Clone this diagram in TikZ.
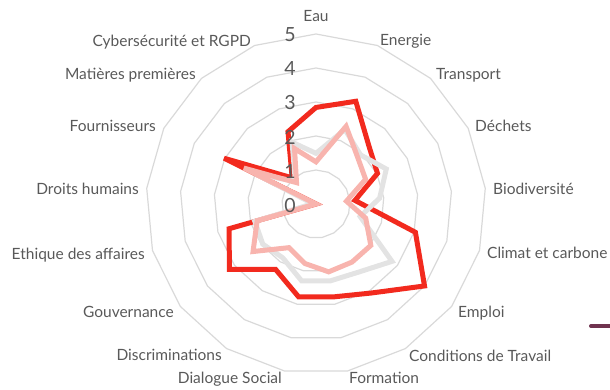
\documentclass[tikz,border=0pt]{standalone}
\usepackage{fontspec}
\setmainfont{Lato}
\definecolor{ringc}{HTML}{D9D9D9}
\definecolor{txt}{HTML}{595959}
\definecolor{redc}{HTML}{F22A1E}
\definecolor{pinkc}{HTML}{F8B4AE}
\definecolor{grayc}{HTML}{E3E3E3}
\definecolor{maroon}{HTML}{70334F}
\tikzset{
  ring/.style={draw=ringc, line width=1.2pt},
  serie/.style={line width=5pt, line join=miter, miter limit=3},
  lab/.style={text=txt, font=\fontsize{15.5}{16}\selectfont, inner sep=0pt, text height=0.72em, text depth=0pt, yshift=-1.5pt},
  tick/.style={text=txt, font=\fontsize{19.5}{20}\selectfont, inner sep=0pt, text height=0.72em, text depth=0pt, anchor=east, yshift=-2pt},
}
\begin{document}
\begin{tikzpicture}[x=1pt,y=-1pt]
\useasboundingbox (0,0) rectangle (610,390);
% rings
\foreach \v in {1,...,5}{
  \draw[ring] (316,{204-34*\v}) \foreach \k in {1,...,16}{ -- ({316+34*\v*sin(\k*360/17)},{204-34*\v*cos(\k*360/17)}) } -- cycle;
}
% data points
\foreach \v [count=\k from 0] in {2.84,3.24,2.31,2.02,1.15,3.04,4.0,3.08,2.78,2.78,2.26,3.19,2.66,0,3.02,1.04,2.28}
  \coordinate (r\k) at ({316+34*\v*sin(\k*360/17)},{204-34*\v*cos(\k*360/17)});
\foreach \v [count=\k from 0] in {1.49,2.35,1.95,2.31,1.88,1.35,2.8,2.36,2.3,2.3,1.86,1.96,1.87,0.1,2.0,0.9,1.95}
  \coordinate (g\k) at ({316+34*\v*sin(\k*360/17)},{204-34*\v*cos(\k*360/17)});
\foreach \v [count=\k from 0] in {1.24,2.45,1.83,1.63,0.9,1.52,2.02,2.01,2.03,1.78,1.51,2.32,1.8,0,2.37,0.85,1.75}
  \coordinate (p\k) at ({316+34*\v*sin(\k*360/17)},{204-34*\v*cos(\k*360/17)});
\draw[serie, redc] (r0) \foreach \k in {1,...,16}{ -- (r\k) } -- cycle;
\draw[serie, grayc] (g0) \foreach \k in {1,...,16}{ -- (g\k) } -- cycle;
\draw[serie, pinkc] (p0) \foreach \k in {1,...,16}{ -- (p\k) } -- cycle;
% tick labels
\foreach \t in {0,...,5}
  \node[tick] (t\t) at (296,{207-34.2*\t}) {\t};
% category labels
\node[lab, anchor=center] (l0) at (316,16) {Eau};
\node[lab, anchor=west] (l1) at (380,40) {Energie};
\node[lab, anchor=west] (l2) at (436,74) {Transport};
\node[lab, anchor=west] (l3) at (475,126) {Déchets};
\node[lab, anchor=west] (l4) at (493,189) {Biodiversité};
\node[lab, anchor=west] (l5) at (487,253) {Climat et carbone};
\node[lab, anchor=west] (l6) at (458,312) {Emploi};
\node[lab, anchor=west] (l7) at (409,356) {Conditions de Travail};
\node[lab, anchor=west] (l8) at (349,378) {Formation};
\node[lab, anchor=east] (l9) at (282,378) {Dialogue Social};
\node[lab, anchor=east] (l10) at (222,355) {Discriminations};
\node[lab, anchor=east] (l11) at (174,312) {Gouvernance};
\node[lab, anchor=east] (l12) at (145,254) {Ethique des affaires};
\node[lab, anchor=east] (l13) at (139,189) {Droits humains};
\node[lab, anchor=east] (l14) at (156,126) {Fournisseurs};
\node[lab, anchor=east] (l15) at (196,74) {Matières premières};
\node[lab, anchor=east] (l16) at (251,41) {Cybersécurité et RGPD};
% legend fragment
\coordinate (m1) at (591,326);
\coordinate (m2) at (612,326);
\draw[maroon, line width=4pt, line cap=round] (m1) -- (m2);
\end{tikzpicture}
\end{document}
